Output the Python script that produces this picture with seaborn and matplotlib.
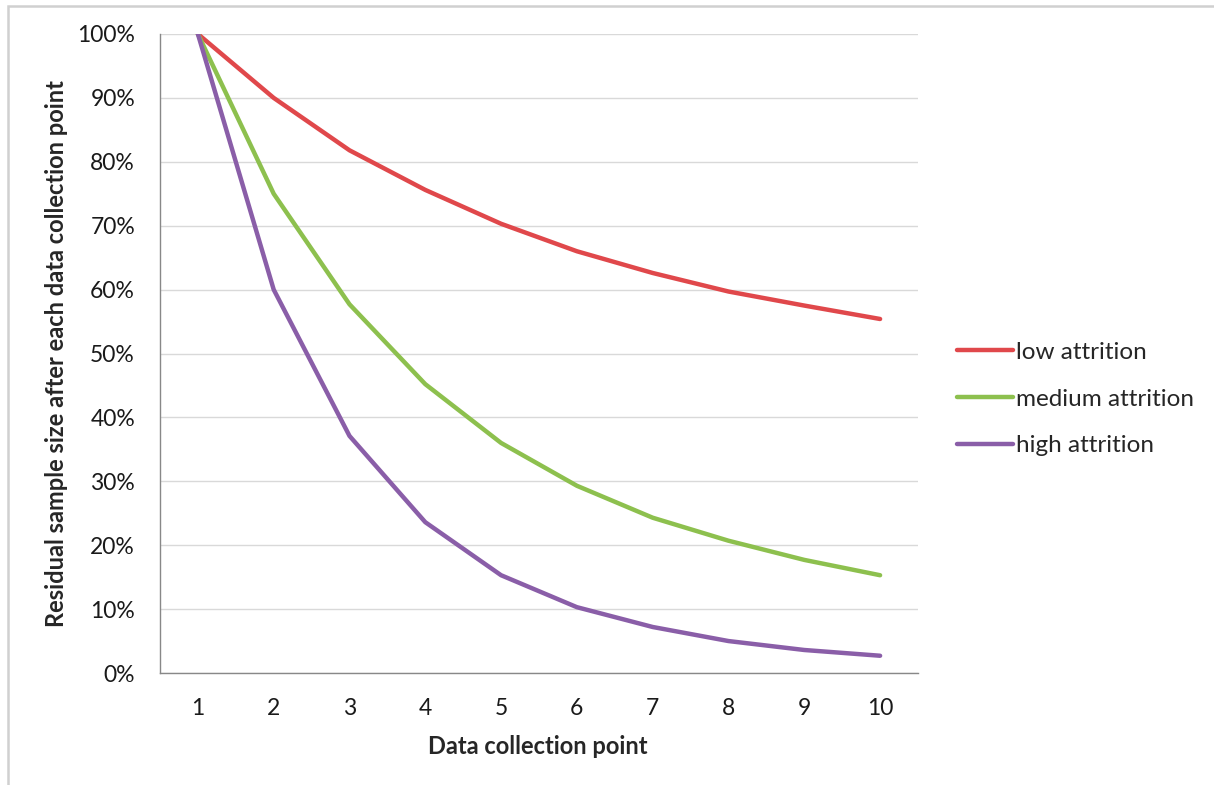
import matplotlib
matplotlib.use("Agg")
import matplotlib.pyplot as plt
import seaborn as sns
import pandas as pd
from matplotlib.patches import Rectangle
from matplotlib.lines import Line2D
from matplotlib.ticker import FuncFormatter, FixedLocator

points = [1, 2, 3, 4, 5, 6, 7, 8, 9, 10]
low = [100, 90.0, 81.8, 75.6, 70.3, 66.0, 62.6, 59.7, 57.5, 55.4]
medium = [100, 75.0, 57.7, 45.2, 36.0, 29.3, 24.3, 20.7, 17.7, 15.3]
high = [100, 60.0, 37.1, 23.6, 15.3, 10.3, 7.2, 5.0, 3.6, 2.7]
series_names = ["low attrition", "medium attrition", "high attrition"]
colors = ["#E0484B", "#8DC04E", "#8A5EA8"]
yticks = [0, 10, 20, 30, 40, 50, 60, 70, 80, 90, 100]

df = pd.concat([
    pd.DataFrame({"point": points, "value": vals, "series": name})
    for name, vals in zip(series_names, [low, medium, high])
])

sns.set_theme(style="white")
plt.rcParams["font.family"] = ["Lato", "DejaVu Sans"]

fig = plt.figure(figsize=(12.14, 7.85), dpi=100)
ax = fig.add_axes([160/1214, 1-673/785, (918-160)/1214, (673-34)/785])

sns.lineplot(data=df, x="point", y="value", hue="series", hue_order=series_names,
             palette=colors, linewidth=3.2, ax=ax, legend=False)

ax.set_xlim(0.5, 10.5)
ax.set_ylim(0, 100)
ax.yaxis.set_major_locator(FixedLocator(yticks))
ax.yaxis.set_major_formatter(FuncFormatter(lambda v, p: f"{int(v)}%"))
ax.set_xticks([p - 0.5 for p in points] + [10.5])
ax.set_xticklabels([])
ax.set_xticks(points, minor=True)
ax.set_xticklabels([str(p) for p in points], minor=True)
ax.tick_params(axis="x", which="minor", length=0, pad=18, labelsize=16.5, labelcolor="#1a1a1a")
ax.tick_params(axis="x", which="major", length=6, width=1, color="#888888", direction="out")
ax.tick_params(axis="y", length=6, width=1, color="#888888", direction="out", pad=12,
               labelsize=16.5, labelcolor="#1a1a1a")
ax.grid(axis="y", color="#D9D9D9", linewidth=1)
ax.grid(axis="x", visible=False)
for s in ["top", "right"]:
    ax.spines[s].set_visible(False)
for s in ["left", "bottom"]:
    ax.spines[s].set_color("#888888")
    ax.spines[s].set_linewidth(1)

ax.set_xlabel("Data collection point", fontsize=17, fontweight="bold")
ax.set_ylabel("Residual sample size after each data collection point", fontsize=17,
              fontweight="bold")
ax.xaxis.set_label_coords((538-160)/(918-160), -(735-673)/(673-34))
ax.yaxis.set_label_coords(-(160-68)/(918-160), 0.5)

handles = [Line2D([0], [0], color=c, linewidth=3.2) for c in colors]
fig.legend(handles, series_names, loc="center left",
           bbox_to_anchor=(947/1214, 1-399/785), frameon=False, fontsize=17.5,
           handlelength=2.3, handletextpad=0.15, labelspacing=1.05, borderaxespad=0)

fig.patches.append(Rectangle((8/1214, -0.05), 1.1, 1-6/785+0.05, transform=fig.transFigure,
                             fill=False, edgecolor="#D0D0D0", linewidth=1.8, zorder=0))

fig.savefig("out.png", dpi=100, facecolor="white")
